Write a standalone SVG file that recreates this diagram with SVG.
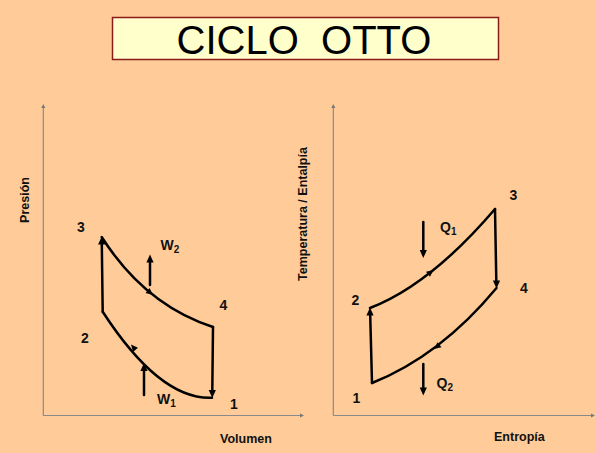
<svg xmlns="http://www.w3.org/2000/svg" xmlns:xlink="http://www.w3.org/1999/xlink" width="596" height="453" viewBox="0 0 596 453">
<style>
.lbl{font-family:"Liberation Sans",Arial,sans-serif;font-weight:bold;fill:#111;}
.num{font-size:14px;}
.sub{font-size:10px;}
.ax{font-size:12.5px;}
.axis{stroke:#8a8a8a;stroke-width:1.2;fill:none;}
.cyc{stroke:#000;stroke-width:2.5;fill:none;stroke-linecap:round;stroke-linejoin:round;}
</style>
<defs>
<path id="ah" d="M0,0 L-8,-3.6 L-8,3.6 Z" fill="#000"/>
<path id="ahs" d="M0,0 L-7,-3.2 L-7,3.2 Z" fill="#000"/>
<path id="axh" d="M0,0 L-4,-2 L-4,2 Z" fill="#777"/>
</defs>
<rect x="0" y="0" width="596" height="453" fill="#FFCC99"/>
<g id="title">
<rect x="112.5" y="17.5" width="386" height="42" fill="#FFFFCC" stroke="#8B1A1A" stroke-width="1.5"/>
<text x="304" y="53.5" text-anchor="middle" xml:space="preserve" style="font-family:'Liberation Sans',Arial,sans-serif;font-size:40px;fill:#000;">CICLO  OTTO</text>
</g>
<g id="pv-axes">
<line class="axis" x1="43.3" y1="106" x2="43.3" y2="415.5"/>
<line class="axis" x1="43.3" y1="415.5" x2="302" y2="415.5"/>
<use xlink:href="#axh" transform="translate(43.3,104) rotate(-90)"/>
<use xlink:href="#axh" transform="translate(304,415.5)"/>
<text class="lbl ax" transform="translate(29,200) rotate(-90)" text-anchor="middle">Presión</text>
<text class="lbl ax" x="220" y="443">Volumen</text>
</g>
<g id="ts-axes">
<line class="axis" x1="333.3" y1="106" x2="333.3" y2="415.5"/>
<line class="axis" x1="333.3" y1="415.5" x2="593" y2="415.5"/>
<use xlink:href="#axh" transform="translate(333.3,104) rotate(-90)"/>
<use xlink:href="#axh" transform="translate(595,415.5)"/>
<text class="lbl ax" transform="translate(307,214) rotate(-90)" text-anchor="middle">Temperatura / Entalpía</text>
<text class="lbl ax" x="494" y="441">Entropía</text>
</g>
<g id="connectors">
<!-- P-V cycle -->
<path class="cyc" d="M101.7,237 Q145,305 213,327"/>
<path class="cyc" d="M213,327 L212.3,391"/>
<path class="cyc" d="M102.7,311.7 Q160,400 212,397.7"/>
<path class="cyc" d="M102.7,311.7 L101.8,244"/>
<use xlink:href="#ah" transform="translate(212.3,398) rotate(90)"/>
<use xlink:href="#ah" transform="translate(101.7,236.5) rotate(-90)"/>
<use xlink:href="#ahs" transform="translate(153,295) rotate(39)"/>
<use xlink:href="#ahs" transform="translate(131,344.5) rotate(-130)"/>
<line class="cyc" x1="150" y1="285" x2="150" y2="261"/>
<use xlink:href="#ah" transform="translate(150,254.5) rotate(-90)"/>
<line class="cyc" x1="144" y1="395" x2="144" y2="370"/>
<use xlink:href="#ah" transform="translate(144,363) rotate(-90)"/>
<!-- T-S cycle -->
<path class="cyc" d="M370,308 Q430,285 495,209"/>
<path class="cyc" d="M495,209 L496.3,281"/>
<path class="cyc" d="M496.5,288 Q440,356 372,383"/>
<path class="cyc" d="M372,383 L370.2,315"/>
<use xlink:href="#ah" transform="translate(496.5,288.5) rotate(90)"/>
<use xlink:href="#ah" transform="translate(370,307.5) rotate(-90)"/>
<use xlink:href="#ahs" transform="translate(433.5,270) rotate(-38)"/>
<use xlink:href="#ahs" transform="translate(434,349) rotate(142)"/>
<line class="cyc" x1="423.3" y1="222" x2="423.3" y2="250"/>
<use xlink:href="#ah" transform="translate(423.3,258) rotate(90)"/>
<line class="cyc" x1="423.3" y1="364" x2="423.3" y2="388"/>
<use xlink:href="#ah" transform="translate(423.3,395.5) rotate(90)"/>
</g>
<g id="pv-labels">
<text class="lbl num" x="77" y="231.5">3</text>
<text class="lbl num" x="81" y="342.5">2</text>
<text class="lbl num" x="219.5" y="310">4</text>
<text class="lbl num" x="230" y="409">1</text>
<text class="lbl num" x="160.5" y="249.5">W<tspan class="sub" dy="3">2</tspan></text>
<text class="lbl num" x="157" y="404">W<tspan class="sub" dy="3">1</tspan></text>
</g>
<g id="ts-labels">
<text class="lbl num" x="509.5" y="199.5">3</text>
<text class="lbl num" x="520" y="293">4</text>
<text class="lbl num" x="351.5" y="304.5">2</text>
<text class="lbl num" x="352.5" y="403">1</text>
<text class="lbl num" x="440" y="232">Q<tspan class="sub" dy="3">1</tspan></text>
<text class="lbl num" x="436.5" y="388">Q<tspan class="sub" dy="3">2</tspan></text>
</g>
</svg>
